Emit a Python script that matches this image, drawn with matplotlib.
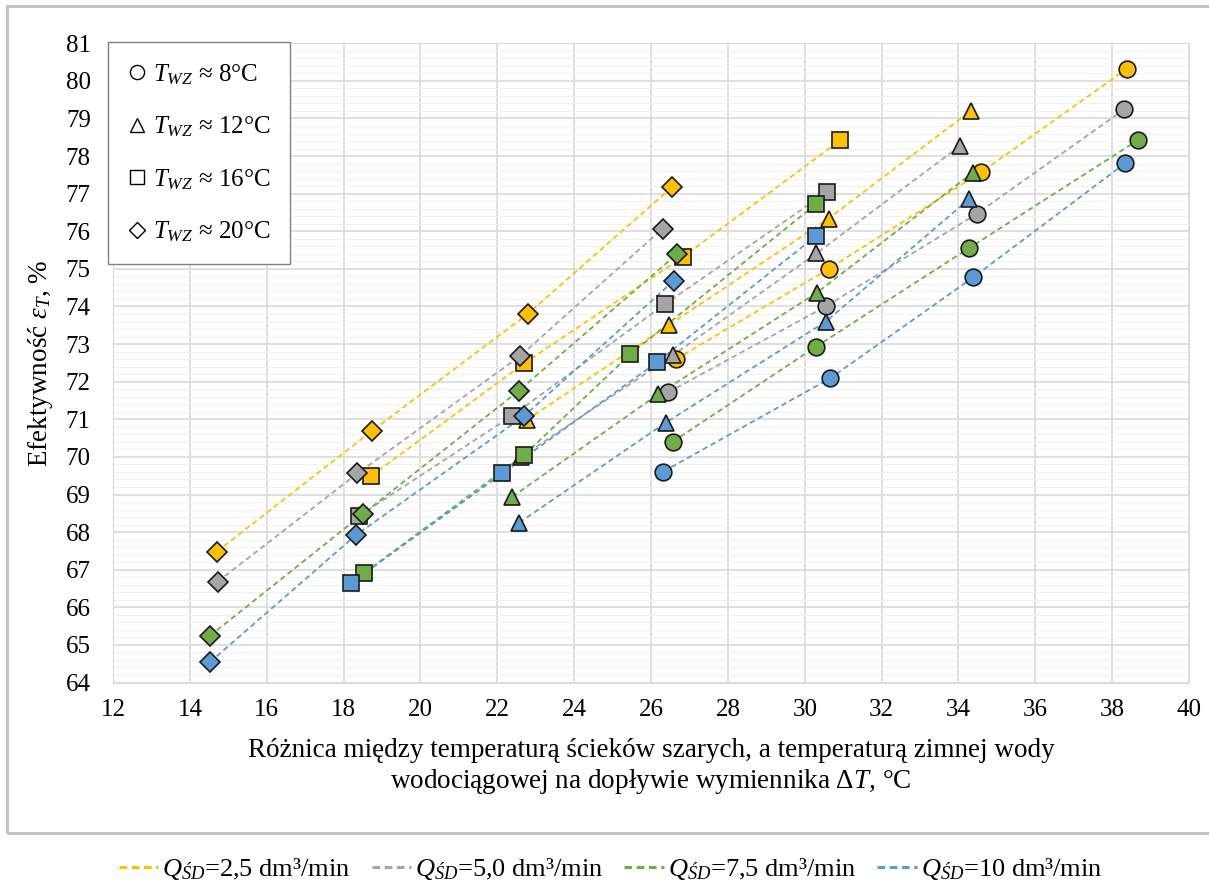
import matplotlib
matplotlib.use("Agg")
import matplotlib.pyplot as plt
from matplotlib.lines import Line2D
from matplotlib.patches import Rectangle

plt.rcParams['font.family'] = ['Liberation Serif', 'DejaVu Serif']
plt.rcParams['mathtext.fontset'] = 'custom'
plt.rcParams['mathtext.rm'] = 'Liberation Serif'
plt.rcParams['mathtext.it'] = 'Liberation Serif:italic'
plt.rcParams['mathtext.bf'] = 'Liberation Serif:bold'

# flows, in order: 2.5, 5.0, 7.5, 10 dm3/min
flow_labels = [r'$Q_{ŚD}$=2,5 dm³/min', r'$Q_{ŚD}$=5,0 dm³/min',
               r'$Q_{ŚD}$=7,5 dm³/min', r'$Q_{ŚD}$=10 dm³/min']
flow_colors = ['#FFC000', '#A5A5A5', '#70AD47', '#5B9BD5']

temp_labels = [r'$T_{WZ}$ ≈ 8°C', r'$T_{WZ}$ ≈ 12°C',
               r'$T_{WZ}$ ≈ 16°C', r'$T_{WZ}$ ≈ 20°C']

# T_WZ ~ 8 C (circles)
dT_8 = [[26.65, 30.62, 34.59, 38.38],
        [26.45, 30.56, 34.47, 38.31],
        [26.56, 30.29, 34.27, 38.68],
        [26.32, 30.66, 34.39, 38.34]]
eff_8 = [[72.60, 75.00, 77.57, 80.32],
         [71.72, 74.01, 76.46, 79.24],
         [70.40, 72.93, 75.55, 78.43],
         [69.61, 72.09, 74.78, 77.81]]

# T_WZ ~ 12 C (triangles)
dT_12 = [[22.76, 26.47, 30.62, 34.33],
         [22.62, 26.58, 30.30, 34.04],
         [22.39, 26.19, 30.32, 34.37],
         [22.57, 26.38, 30.55, 34.28]]
eff_12 = [[70.98, 73.51, 76.34, 79.21],
          [70.00, 72.71, 75.41, 78.27],
          [68.94, 71.67, 74.37, 77.56],
          [68.25, 70.91, 73.60, 76.86]]

# T_WZ ~ 16 C (squares)
dT_16 = [[18.71, 22.70, 26.82, 30.92],
         [18.41, 22.39, 26.36, 30.59],
         [18.54, 22.70, 25.46, 30.30],
         [18.19, 22.13, 26.16, 30.30]]
eff_16 = [[69.49, 72.49, 75.31, 78.42],
          [68.44, 71.10, 74.06, 77.05],
          [66.92, 70.05, 72.73, 76.73],
          [66.64, 69.56, 72.52, 75.88]]

# T_WZ ~ 20 C (diamonds)
dT_20 = [[14.70, 18.75, 22.79, 26.54],
         [14.72, 18.36, 22.59, 26.30],
         [14.52, 18.50, 22.56, 26.67],
         [14.52, 18.32, 22.70, 26.60]]
eff_20 = [[67.48, 70.70, 73.80, 77.17],
          [66.68, 69.56, 72.68, 76.07],
          [65.24, 68.48, 71.76, 75.39],
          [64.54, 67.92, 71.09, 74.69]]

groups = [(dT_8, eff_8, 'o', 12), (dT_12, eff_12, '^', 12),
          (dT_16, eff_16, 's', 11.5), (dT_20, eff_20, 'D', 10)]

fig = plt.figure(figsize=(12.09, 8.85), dpi=100)
ax = fig.add_axes([0.0935, 0.2288, 0.89, 0.7223])

# chart area frame
fig.patches.append(Rectangle((7 / 1209, 1 - 833 / 885), 1.2, 827 / 885,
                             transform=fig.transFigure, fill=False,
                             edgecolor='#BFBFBF', linewidth=2))

dash = (0, (3, 2))
z = 3
for dT, eff, mk, ms in groups:
    for i in range(4):
        ax.plot(dT[i], eff[i], color=flow_colors[i], linestyle=dash,
                linewidth=1.3, zorder=2)
for dT, eff, mk, ms in groups:
    for i in range(4):
        ax.plot(dT[i], eff[i], linestyle='none', marker=mk, markersize=ms,
                markerfacecolor=flow_colors[i], markeredgecolor='#1a1a1a',
                markeredgewidth=1.2, zorder=z)
        z += 0.01

ax.set_xlim(12, 40)
ax.set_ylim(64, 81)
ax.set_xticks(range(12, 41, 2))
ax.set_yticks(range(64, 82))
ax.set_yticks([64 + k * 0.2 for k in range(86)], minor=True)
ax.grid(which='major', color='#D9D9D9', linewidth=1.2)
ax.grid(which='minor', axis='y', color='#F0F0F0', linewidth=0.8)
ax.set_axisbelow(True)
ax.tick_params(which='both', length=0)
ax.tick_params(axis='x', labelsize=18, pad=12)
ax.tick_params(axis='y', labelsize=18, pad=16)
for s in ax.spines.values():
    s.set_color('#D9D9D9')

ax.set_xlabel('Różnica między temperaturą ścieków szarych, a temperaturą zimnej wody\n'
              'wodociągowej na dopływie wymiennika $\\mathit{ΔT}$, °C',
              fontsize=19.5, linespacing=1.2, labelpad=12)
ax.set_ylabel(r'Efektywność $\varepsilon_T$, %', fontsize=19.5, labelpad=8)

# marker legend (hollow)
shape_handles = [Line2D([], [], linestyle='none', marker=mk, markersize=ms * 0.85,
                        markerfacecolor='white', markeredgecolor='black',
                        markeredgewidth=1.0)
                 for _, _, mk, ms in groups]
leg1 = fig.legend(shape_handles, temp_labels, loc='upper left',
                  bbox_to_anchor=(108 / 1209, 1 - 42 / 885), fontsize=18,
                  frameon=True, fancybox=False, edgecolor='#7F7F7F',
                  framealpha=1, labelspacing=1.12, handletextpad=0.3,
                  borderpad=0.8, handlelength=0.7, borderaxespad=0)
leg1.get_frame().set_linewidth(1.0)

# flow legend (lines)
line_handles = [Line2D([], [], color=c, linestyle=(0, (2.5, 1.5)), linewidth=2.2)
                for c in flow_colors]
fig.legend(line_handles, flow_labels, loc='center', ncol=4,
           bbox_to_anchor=(0.505, 1 - 869 / 885), fontsize=19, frameon=False,
           handlelength=1.5, handletextpad=0.15, columnspacing=0.8)

fig.savefig('out.png', dpi=100)
